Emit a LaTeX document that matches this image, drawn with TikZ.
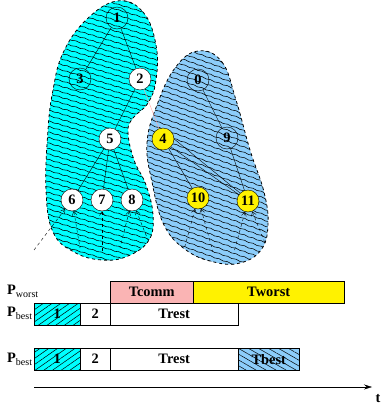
\documentclass[tikz,border=0pt]{standalone}
\usepackage{fontspec}
\setmainfont{Liberation Serif}
\usepackage{tikz}
\usetikzlibrary{arrows.meta,decorations.pathmorphing,patterns.meta}

\definecolor{blobcyan}{RGB}{0,255,255}
\definecolor{blobblue}{RGB}{140,205,250}
\definecolor{commpink}{RGB}{250,180,180}

\begin{document}
\begin{tikzpicture}[
    x=1pt, y=-1pt,
    tnode/.style={circle, draw, minimum size=22pt, inner sep=0pt, font=\Large\bfseries},
    open/.style={tnode},
    done/.style={tnode, fill=white},
    stolen/.style={tnode, fill=yellow},
    edge/.style={draw, black, thin},
    steal/.style={draw, red!35, thin},
    sub/.style={draw, dashed, thin, {Straight Barb[length=4pt,width=5pt]}-},
    blob/.style={draw, dashed, thick},
    wave/.style={draw, line width=0.55pt, decorate, decoration={snake, amplitude=0.4pt, segment length=9pt}},
    slot/.style={draw, thin, minimum height=22pt, inner sep=0pt, font=\Large\bfseries, anchor=north west},
    plabel/.style={anchor=west, inner sep=0pt}
]
\useasboundingbox (0,0) rectangle (382,407);

% Left subtree region
\def\leftblob{plot[smooth cycle, tension=0.7] coordinates {(117,1) (143,12) (156,45) (156,80) (148,103) (133,118) (128,132) (134,160) (146,185) (153,215) (149,240) (128,256) (102,260) (74,252) (53,232) (46,190) (48,130) (53,90) (63,53) (86,20)}}
\fill[blobcyan] \leftblob;
\begin{scope}
  \clip \leftblob;
  \foreach \k in {-60,...,60}
    \path[wave] (30,\k*5.5) -- (170,\k*5.5+42);
\end{scope}
\draw[blob] \leftblob;

% Right subtree region
\def\rightblob{plot[smooth cycle, tension=0.7] coordinates {(198,51) (222,62) (236,100) (250,150) (264,192) (268,225) (261,250) (240,263) (214,262) (186,250) (164,225) (152,182) (147,143) (157,105) (175,68)}}
\fill[blobblue] \rightblob;
\begin{scope}
  \clip \rightblob;
  \foreach \k in {-30,...,60}
    \path[wave] (140,\k*5.5) -- (275,\k*5.5+48);
\end{scope}
\draw[blob] \rightblob;

% Tree nodes
\node[open] (n1) at (117,18) {1};
\node[open] (n3) at (80,79) {3};
\node[done] (n2) at (140,79) {2};
\node[done] (n5) at (110,139) {5};
\node[done] (n6) at (72,200) {6};
\node[done] (n7) at (102,200) {7};
\node[done] (n8) at (132,200) {8};
\node[stolen] (n4) at (163,139) {4};
\node[open] (n0) at (198,80) {0};
\node[open] (n9) at (227,138) {9};
\node[stolen] (n10) at (198,198) {10};
\node[stolen] (n11) at (248,201) {11};

% Tree edges
\draw[edge] (n1) -- (n3);
\draw[edge] (n1) -- (n2);
\draw[edge] (n2) -- (n5);
\draw[edge] (n5) -- (n6);
\draw[edge] (n5) -- (n7);
\draw[edge] (n5) -- (n8);
\draw[edge] (n0) -- (n9);
\draw[edge] (n9) -- (n11);
\draw[edge] (n4) -- (n10);
\draw[edge] (n4.south east) -- (n11);
\draw[edge] (n4.east) -- (n11.north west);
\draw[steal] (n2) -- (n4);

% Unexplored subtrees
\coordinate (e6a) at (34,250);
\coordinate (e6b) at (80,248);
\coordinate (e7) at (102,252);
\coordinate (e8a) at (120,248);
\coordinate (e8b) at (148,240);
\coordinate (e10a) at (185,246);
\coordinate (e10b) at (213,252);
\coordinate (e11a) at (234,252);
\coordinate (e11b) at (265,243);
\draw[sub] (n6) -- (e6a);
\draw[sub] (n6) -- (e6b);
\draw[sub] (n7) -- (e7);
\draw[sub] (n8) -- (e8a);
\draw[sub] (n8) -- (e8b);
\draw[sub] (n10) -- (e10a);
\draw[sub] (n10) -- (e10b);
\draw[sub] (n11) -- (e11a);
\draw[sub] (n11) -- (e11b);

% Schedules
\node[plabel] (pw) at (7,291) {{\Large\bfseries P}\raisebox{-0.6ex}{\normalsize worst}};
\node[plabel] (pb1) at (7,313) {{\Large\bfseries P}\raisebox{-0.6ex}{\normalsize best}};
\node[plabel] (pb2) at (7,359) {{\Large\bfseries P}\raisebox{-0.6ex}{\normalsize best}};

\node[slot, fill=commpink, minimum width=83pt] (tcomm) at (110,281) {Tcomm};
\node[slot, fill=yellow, minimum width=151pt] (tworst) at (193,281) {Tworst};

\node[slot, fill=blobcyan, minimum width=46pt,
      postaction={pattern={Lines[angle=35, distance=5pt, line width=0.5pt]}}] (a1) at (34,303) {1};
\node[slot, minimum width=30pt] (a2) at (80,303) {2};
\node[slot, minimum width=128pt] (arest) at (110,303) {Trest};

\node[slot, fill=blobcyan, minimum width=46pt,
      postaction={pattern={Lines[angle=35, distance=5pt, line width=0.5pt]}}] (b1) at (34,348) {1};
\node[slot, minimum width=30pt] (b2) at (80,348) {2};
\node[slot, minimum width=128pt] (brest) at (110,348) {Trest};
\node[slot, fill=blobblue, minimum width=61pt,
      postaction={pattern={Lines[angle=-30, distance=5pt, line width=0.5pt]}}] (bbest) at (238,348) {Tbest};

% Time axis
\coordinate (t0) at (34,387);
\node[font=\Large\bfseries] (t) at (378,399) {t};
\draw[-{Stealth[length=8pt,width=5pt]}, thin] (t0) -- (372,387);

\end{tikzpicture}
\end{document}
